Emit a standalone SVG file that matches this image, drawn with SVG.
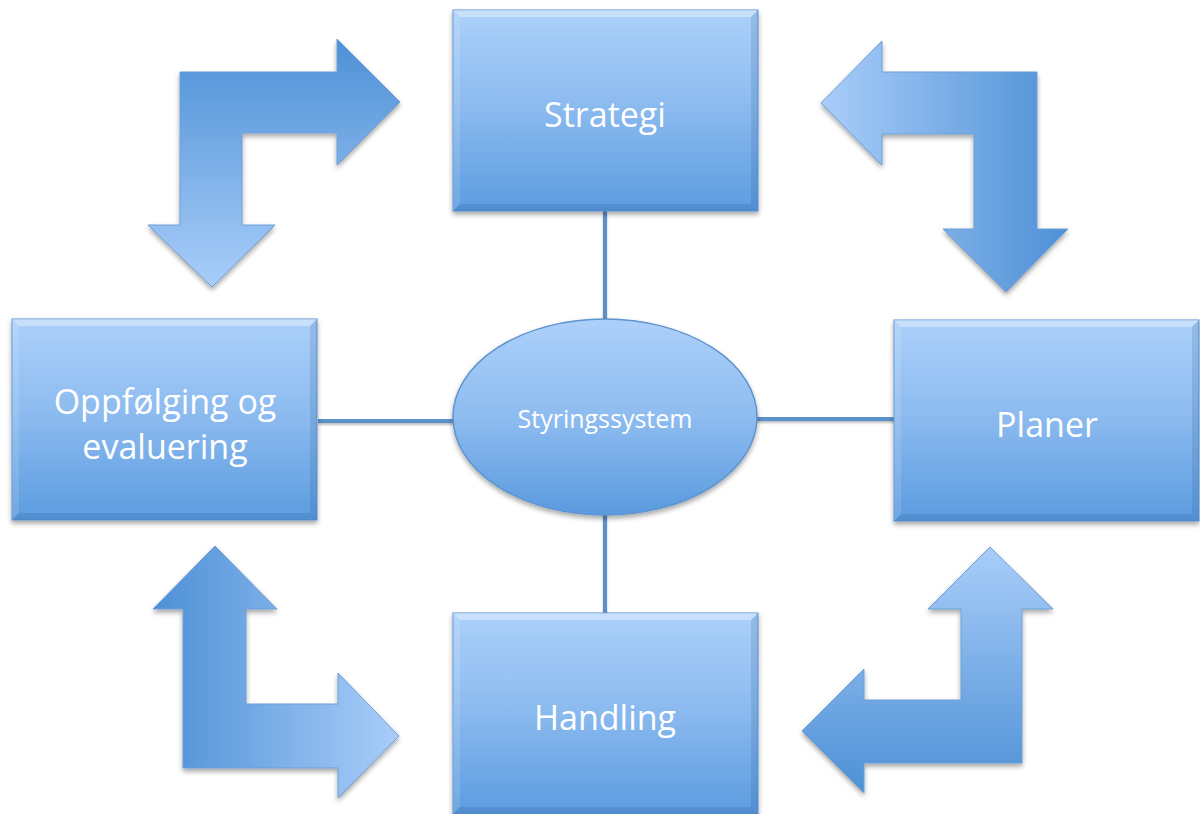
<svg xmlns="http://www.w3.org/2000/svg" xmlns:xlink="http://www.w3.org/1999/xlink" width="1200" height="814" viewBox="0 0 1200 814">
  <style>
    .lbl { font-family: "Open Sans", "Liberation Sans", sans-serif; fill: #ffffff; text-anchor: middle; }
    .big { font-size: 34px; }
    .small { font-size: 25px; }
    .conn { stroke: #5b90cb; stroke-width: 4; fill: none; }
    .arrow { stroke: #6c9fd6; stroke-width: 1; stroke-linejoin: miter; }
  </style>
  <defs>
    <linearGradient id="boxGrad" x1="0" y1="0" x2="0" y2="1">
      <stop offset="0" stop-color="#acd0fa"/>
      <stop offset="0.45" stop-color="#8ebcf0"/>
      <stop offset="1" stop-color="#5c9ce0"/>
    </linearGradient>
    <linearGradient id="ellGrad" x1="0" y1="0" x2="0" y2="1">
      <stop offset="0" stop-color="#acd0fa"/>
      <stop offset="0.5" stop-color="#8ebcf0"/>
      <stop offset="1" stop-color="#5a9adf"/>
    </linearGradient>
    <linearGradient id="gTL" gradientUnits="userSpaceOnUse" x1="0" y1="39" x2="0" y2="287">
      <stop offset="0" stop-color="#4d90d6"/>
      <stop offset="1" stop-color="#a9cdf9"/>
    </linearGradient>
    <linearGradient id="gTR" gradientUnits="userSpaceOnUse" x1="821" y1="0" x2="1068" y2="0">
      <stop offset="0" stop-color="#a9cdf9"/>
      <stop offset="1" stop-color="#4d90d6"/>
    </linearGradient>
    <linearGradient id="gBL" gradientUnits="userSpaceOnUse" x1="153" y1="0" x2="399" y2="0">
      <stop offset="0" stop-color="#4d90d6"/>
      <stop offset="1" stop-color="#a9cdf9"/>
    </linearGradient>
    <linearGradient id="gBR" gradientUnits="userSpaceOnUse" x1="0" y1="547" x2="0" y2="793">
      <stop offset="0" stop-color="#a9cdf9"/>
      <stop offset="1" stop-color="#4d90d6"/>
    </linearGradient>
    <filter id="shadow" x="-10%" y="-10%" width="120%" height="125%">
      <feDropShadow dx="0" dy="3" stdDeviation="2.5" flood-color="#000000" flood-opacity="0.35"/>
    </filter>
    <filter id="lineShadow" x="-10%" y="-10%" width="120%" height="140%">
      <feDropShadow dx="0" dy="2" stdDeviation="1" flood-color="#000000" flood-opacity="0.25"/>
    </filter>
    <g id="boxShape">
      <rect x="0" y="0" width="305" height="201" fill="url(#boxGrad)" stroke="#5d93cf" stroke-width="1"/>
      <polygon points="0,0 305,0 298,7 7,7" fill="#ffffff" fill-opacity="0.35"/>
      <polygon points="0,0 7,7 7,194 0,201" fill="#ffffff" fill-opacity="0.12"/>
      <polygon points="305,0 305,201 298,194 298,7" fill="#1d4f8a" fill-opacity="0.16"/>
      <polygon points="0,201 305,201 298,194 7,194" fill="#1d4f8a" fill-opacity="0.18"/>
    </g>
  </defs>

  <rect x="0" y="0" width="1200" height="814" fill="#ffffff"/>

  <g id="connectors" filter="url(#lineShadow)">
    <line class="conn" x1="605" y1="211" x2="605" y2="320"/>
    <line class="conn" x1="605" y1="513" x2="605" y2="613"/>
    <line class="conn" x1="318" y1="421" x2="455" y2="421"/>
    <line class="conn" x1="755" y1="419" x2="895" y2="419"/>
  </g>

  <g id="arrow-top-left" filter="url(#shadow)">
    <polygon class="arrow" fill="url(#gTL)" points="180,72 337,72 337,39 400,102 337,165 337,133 242,133 242,225 275,225 212,287 148,225 180,225"/>
  </g>
  <g id="arrow-top-right" filter="url(#shadow)">
    <polygon class="arrow" fill="url(#gTR)" points="1037,72 882,72 882,41 821,103 882,165 882,134 974,134 974,229 943,229 1006,292 1068,229 1037,229"/>
  </g>
  <g id="arrow-bottom-left" filter="url(#shadow)">
    <polygon class="arrow" fill="url(#gBL)" points="183,768 183,609 153,609 215,546 277,609 246,609 246,704 338,704 338,673 399,736 338,798 338,768"/>
  </g>
  <g id="arrow-bottom-right" filter="url(#shadow)">
    <polygon class="arrow" fill="url(#gBR)" points="1022,763 864,763 864,793 802,731 864,669 864,700 961,700 961,609 928,609 990,547 1053,609 1022,609"/>
  </g>

  <g id="node-strategi">
    <use xlink:href="#boxShape" href="#boxShape" x="453" y="10" filter="url(#shadow)"/>
    <text class="lbl big" x="605" y="127">Strategi</text>
  </g>
  <g id="node-oppfolging">
    <use xlink:href="#boxShape" href="#boxShape" x="12" y="319" filter="url(#shadow)"/>
    <text class="lbl big" x="165" y="414">Oppfølging og</text>
    <text class="lbl big" x="165" y="459">evaluering</text>
  </g>
  <g id="node-planer">
    <use xlink:href="#boxShape" href="#boxShape" x="894" y="320" filter="url(#shadow)"/>
    <text class="lbl big" x="1047" y="437">Planer</text>
  </g>
  <g id="node-handling">
    <use xlink:href="#boxShape" href="#boxShape" x="453" y="613" filter="url(#shadow)"/>
    <text class="lbl big" x="605" y="730">Handling</text>
  </g>
  <g id="node-styringssystem">
    <ellipse cx="605" cy="417" rx="152" ry="98" fill="url(#ellGrad)" stroke="#5d93cf" stroke-width="1.5" filter="url(#shadow)"/>
    <text class="lbl small" x="605" y="428">Styringssystem</text>
  </g>
</svg>
